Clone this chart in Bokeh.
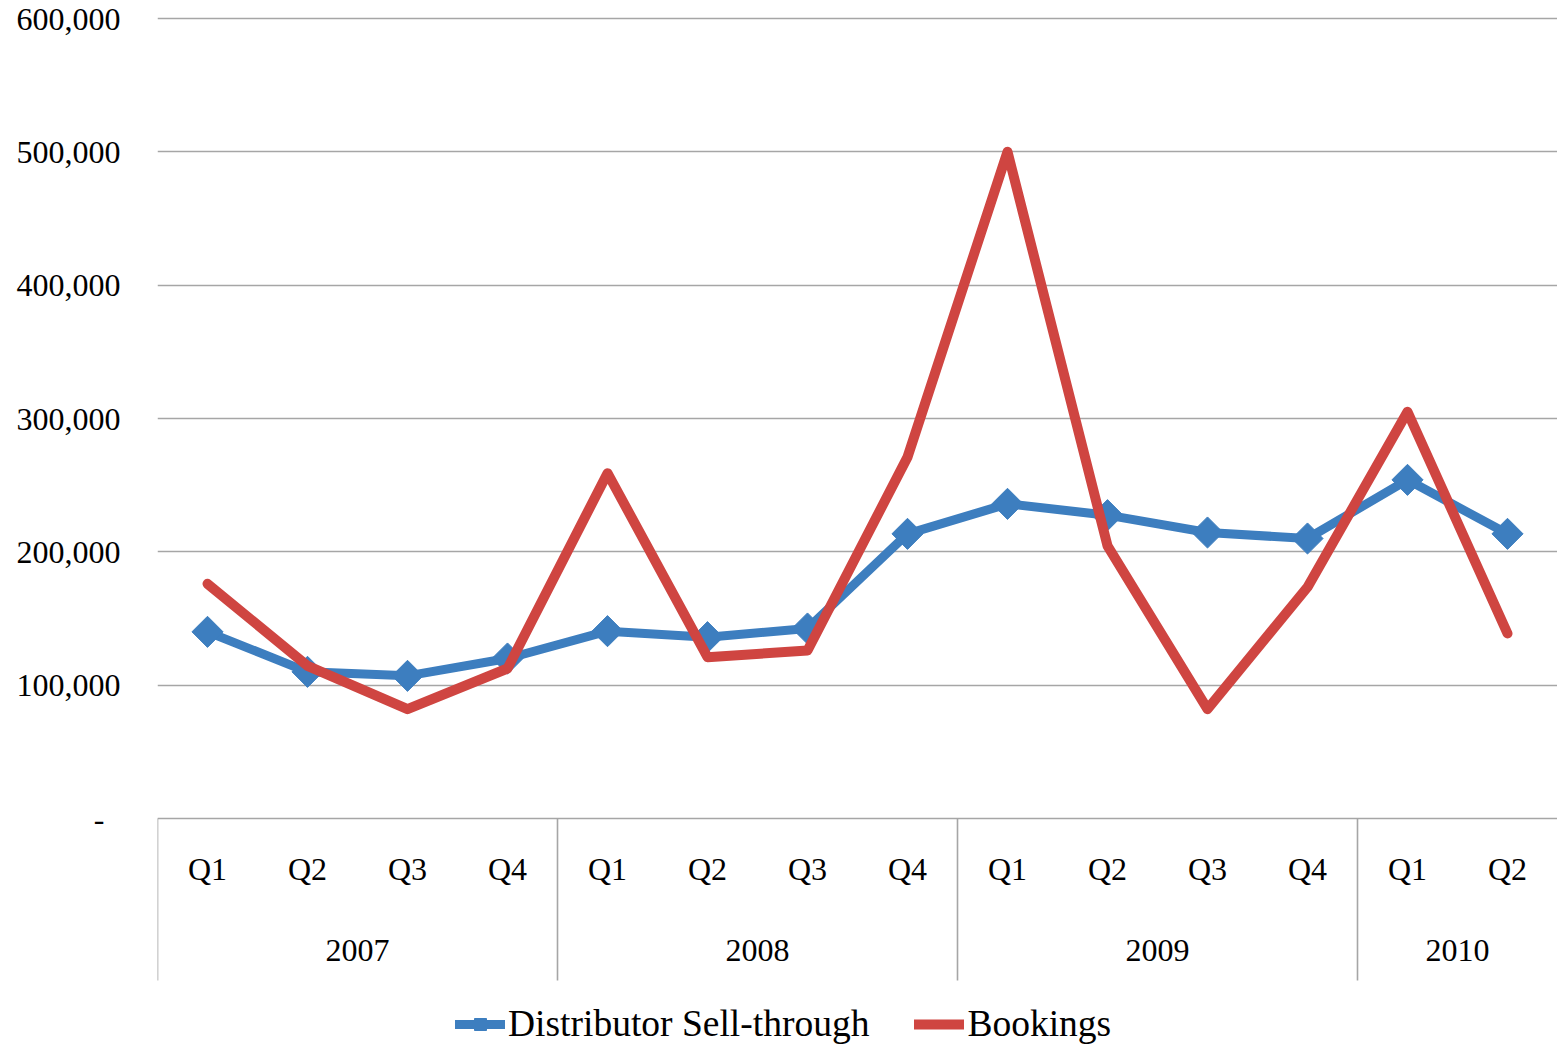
import math
from bokeh.plotting import figure
from bokeh.models import (Range1d, FixedTicker, Legend, LegendItem)
from bokeh.core.properties import value
from bokeh.embed import file_html
from bokeh.resources import INLINE

# ---- data ----
years = ["2007", "2008", "2009", "2010"]
quarters_per_year = [4, 4, 4, 2]
quarters = ["Q1", "Q2", "Q3", "Q4", "Q1", "Q2", "Q3", "Q4",
            "Q1", "Q2", "Q3", "Q4", "Q1", "Q2"]
sell_through = [140000, 110000, 107000, 120000, 140500, 136000, 142500,
                213500, 236000, 227500, 214500, 210000, 254000, 213500]
bookings = [176000, 114500, 82000, 112500, 259000, 121000, 126000,
            271000, 500000, 204500, 82000, 173500, 305000, 138800]
y_ticks = [0, 100000, 200000, 300000, 400000, 500000, 600000]
y_tick_labels = ["-\u00a0\u00a0", "100,000", "200,000", "300,000",
                 "400,000", "500,000", "600,000"]

# ---- layout constants ----
FONT = "Liberation Serif"
BLUE = "#3D7EBF"
RED = "#CF4541"
GRID = "#a6a6a6"
W, H = 1557, 1045
TOP, LEFT = 16, 157
px_per_unit = 800 / 600000.0          # 600,000 spans 800 px
y_max = 600000 + 2 / px_per_unit
frame_h = H - TOP
y_min = y_max - frame_h / px_per_unit
sep_bottom = -162 / px_per_unit        # category box depth
q_label_y = -50 / px_per_unit
yr_label_y = -132 / px_per_unit

n = len(quarters)
xs = [i + 0.5 for i in range(n)]

p = figure(width=W, height=H, output_backend="svg", toolbar_location=None,
           x_range=Range1d(0, n), y_range=Range1d(y_min, y_max),
           x_axis_location=None, min_border_left=LEFT, min_border_top=TOP,
           min_border_right=0, min_border_bottom=0)
p.outline_line_color = None
p.xgrid.visible = False

ticker = FixedTicker(ticks=y_ticks)
yax = p.yaxis[0]
yax.ticker = ticker
yax.major_label_overrides = {t: l for t, l in zip(y_ticks, y_tick_labels)}
yax.axis_line_color = None
yax.major_tick_line_color = None
yax.minor_tick_line_color = None
yax.major_tick_out = 0
yax.major_label_standoff = 37
yax.major_label_text_font = FONT
yax.major_label_text_font_size = "32px"
yax.major_label_text_color = "black"

p.ygrid.ticker = ticker
p.ygrid.grid_line_color = GRID
p.ygrid.grid_line_width = 1.6

# category box separators
bounds = [0]
for c in quarters_per_year[:-1]:
    bounds.append(bounds[-1] + c)
p.segment(x0=bounds, y0=[0] * len(bounds), x1=bounds,
          y1=[sep_bottom] * len(bounds), line_color=GRID, line_width=1.6)

# quarter and year labels
p.text(x=xs, y=[q_label_y] * n, text=quarters, text_font=value(FONT),
       text_font_size="32px", text_align="center", text_baseline="middle",
       text_color="black")
centers = []
start = 0
for c in quarters_per_year:
    centers.append(start + c / 2.0)
    start += c
p.text(x=centers, y=[yr_label_y] * len(years), text=years, text_font=value(FONT),
       text_font_size="32px", text_align="center", text_baseline="middle",
       text_color="black")

# series
bl = p.line(xs, sell_through, line_color=BLUE, line_width=9,
            line_join="round", line_cap="round")
bm = p.scatter(xs, sell_through, marker="square", size=22, angle=math.pi / 4,
               fill_color=BLUE, line_color=BLUE)
rl = p.line(xs, bookings, line_color=RED, line_width=10,
            line_join="round", line_cap="round")

legend = Legend(items=[LegendItem(label="Distributor Sell-through", renderers=[bl, bm]),
                       LegendItem(label="Bookings", renderers=[rl])],
                orientation="horizontal", location=(298, 0),
                label_text_font=FONT, label_text_font_size="37.5px",
                label_text_color="black",
                glyph_width=50, glyph_height=30, label_standoff=3, spacing=45,
                padding=0, margin=0, border_line_color=None,
                background_fill_alpha=0)
p.add_layout(legend)

open("out.html", "w").write(file_html(p, INLINE))
